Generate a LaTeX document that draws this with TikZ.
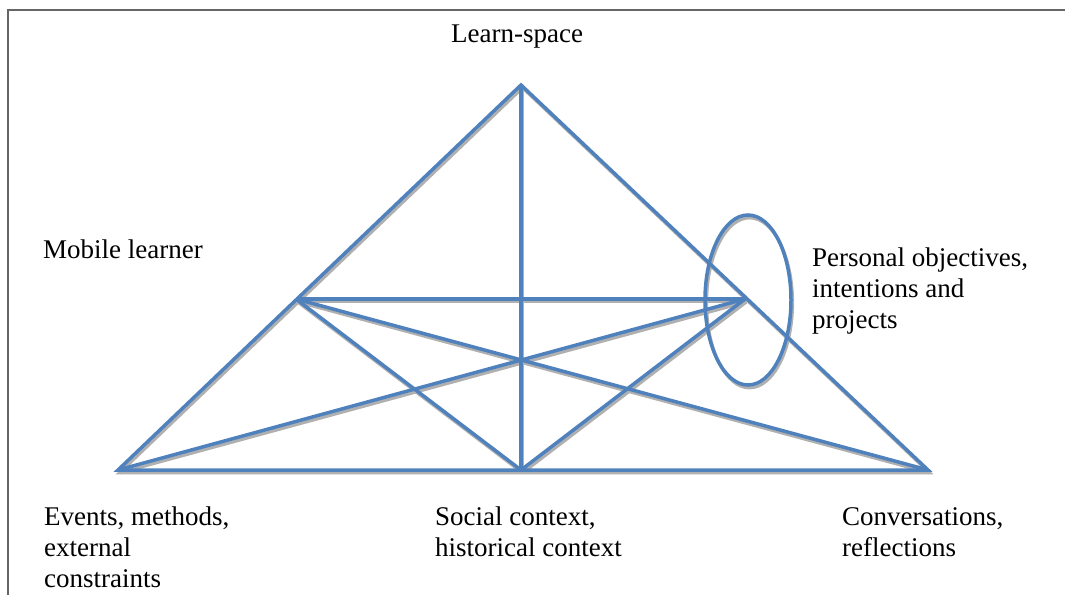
\documentclass[tikz,border=0pt]{standalone}
\usepackage{fontspec}
\setmainfont{Liberation Serif}
\usetikzlibrary{shapes.geometric}
\definecolor{lblue}{HTML}{4F81BD}
\definecolor{framegray}{HTML}{666666}
\definecolor{shadowgray}{HTML}{B0B0B0}
\begin{document}
\begin{tikzpicture}[x=1pt,y=-1pt,
  shadowline/.style={draw=shadowgray, line width=3.2pt, line join=miter, transform canvas={xshift=1.5pt,yshift=-2.8pt}},
  blueline/.style={draw=lblue, line width=3.5pt, line join=miter},
  lab/.style={font=\fontsize{27}{31}\selectfont, inner sep=0pt, align=left, anchor=base west}]
\useasboundingbox (0,0) rectangle (1065,595);
\draw[framegray, line width=2pt] (8,595) -- (8,10) -- (1065,10);
% points
\coordinate (A) at (521,85);
\coordinate (BL) at (118,470);
\coordinate (BM) at (521,470);
\coordinate (BR) at (928,470);
\coordinate (ML) at (296,299);
\coordinate (MR) at (745,299);
\node[ellipse, minimum width=86pt, minimum height=170pt, inner sep=0pt] (oval) at (748,300) {};
% shadows
\draw[shadowline] (BL) -- (A) -- (BR) -- cycle;
\foreach \p/\q in {A/BM, ML/MR, ML/BR, MR/BL, ML/BM, MR/BM}
  \draw[shadowline] (\p) -- (\q);
\draw[shadowline] (748,300) ellipse [x radius=43, y radius=85];
% blue lines
\draw[blueline] (BL) -- (A) -- (BR) -- cycle;
\foreach \p/\q in {A/BM, ML/MR, ML/BR, MR/BL, ML/BM, MR/BM}
  \draw[blueline] (\p) -- (\q);
\draw[blueline] (oval.center) ellipse [x radius=43, y radius=85];
% labels (multi-line nodes: base is 9pt below last baseline)
\node[lab] (learn) at (451,42) {Learn-space};
\node[lab] (mobile) at (43,258) {Mobile learner};
\node[lab] (personal) at (812,328) {Personal objectives,\\intentions and\\projects};
\node[lab] (events) at (44,587) {Events, methods,\\external\\constraints};
\node[lab] (social) at (435,556) {Social context,\\historical context};
\node[lab] (conv) at (842,556) {Conversations,\\reflections};
\end{tikzpicture}
\end{document}
